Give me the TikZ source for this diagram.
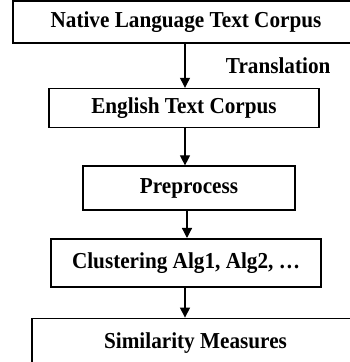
\documentclass[tikz,border=0pt]{standalone}
\usepackage{fontspec}
\setmainfont{Liberation Serif}[FakeStretch=0.93]
\usepackage{tikz}
\usetikzlibrary{arrows.meta}
\usetikzlibrary{positioning}
\tikzstyle{block} = [draw, rectangle, line width=1.6pt, inner sep=0pt,
font=\fontsize{22.8}{26}\selectfont\bfseries]
\tikzstyle{line} = [draw, -{Triangle[length=10pt,width=10pt]}, line width=1.2pt]

\begin{document}
\begin{tikzpicture}[x=1pt, y=1pt]
	\useasboundingbox (0,0) rectangle (350,362);
	\clip (0,0) rectangle (350,362);
	\node[block, minimum width=346pt, minimum height=42pt] (native) at (186,340) {Native Language Text Corpus};
	\node[block, below=44pt of native, xshift=-2pt, minimum width=270pt, minimum height=39pt] (english) {English Text Corpus};
	\node[block, below=37pt of english, xshift=5pt, minimum width=212pt, minimum height=44pt] (prep) {Preprocess};
	\node[block, below=27pt of prep, xshift=-3pt, minimum width=270pt, minimum height=48pt] (clust) {Clustering Alg1, Alg2, \dots};
	\node[block, below=30pt of clust, xshift=9.5pt, minimum width=327pt, minimum height=49pt] (sim) {Similarity Measures};
	%% Flows
	\path [line] (native.south -| 185,0) to node [midway, right, xshift=37pt, font=\fontsize{22.8}{26}\selectfont\bfseries] (TextNode) {Translation} (english.north -| 185,0);
	\path [line] (english.south -| 185,0) -- (prep.north -| 185,0);
	\path [line] (prep.south -| 187,0) -- (clust.north -| 187,0);
	\path [line] (clust.south -| 185,0) -- (sim.north -| 185,0);
\end{tikzpicture}
\end{document}
